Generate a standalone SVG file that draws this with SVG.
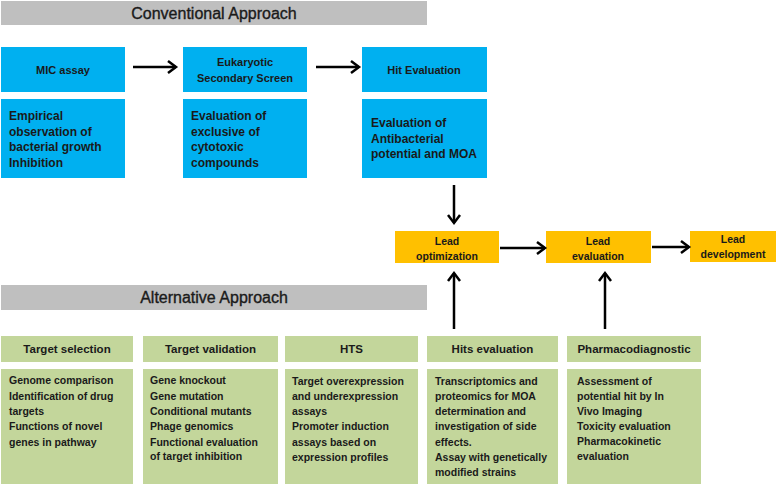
<svg xmlns="http://www.w3.org/2000/svg" width="777" height="486" viewBox="0 0 777 486">
<defs>
<style>
.bar{fill:#BFBFBF}
.blue{fill:#00B0F0}
.org{fill:#FFC000}
.grn{fill:#C3D69B}
.t{font-family:"Liberation Sans",Arial,sans-serif;font-weight:bold;fill:#1a1a1a}
.hd{font-family:"Liberation Sans",Arial,sans-serif;font-size:16px;fill:#1a1a1a;stroke:#1a1a1a;stroke-width:0.35}
.bh{font-size:11px;text-anchor:middle}
.bd{font-size:12px}
.ld{font-size:10.5px;text-anchor:middle}
.gh{font-size:11.5px;text-anchor:middle}
.gd{font-size:10.5px}
.arr{stroke:#000;stroke-width:2.5;fill:none;marker-end:url(#ah)}
</style>
<marker id="ah" markerUnits="userSpaceOnUse" markerWidth="14" markerHeight="16" refX="11" refY="7" orient="auto" viewBox="0 0 14 14">
<path d="M3,1 L11,7 L3,13" fill="none" stroke="#000" stroke-width="2.5"/>
</marker>
</defs>
<rect width="777" height="486" fill="#fff"/>

<g id="conventional-header">
<rect class="bar" x="1" y="1" width="426" height="24"/>
<text class="hd" x="214" y="19" text-anchor="middle">Conventional Approach</text>
</g>

<g id="mic-assay">
<rect class="blue" x="1" y="47" width="124" height="45"/>
<text class="t bh" x="63" y="74">MIC assay</text>
</g>
<g id="mic-detail">
<rect class="blue" x="1" y="99" width="124" height="79"/>
<text class="t bd" x="9" y="120">Empirical</text>
<text class="t bd" x="9" y="135.5">observation of</text>
<text class="t bd" x="9" y="151">bacterial growth</text>
<text class="t bd" x="9" y="167">Inhibition</text>
</g>

<g id="eukaryotic">
<rect class="blue" x="183" y="47" width="124" height="45"/>
<text class="t bh" x="245" y="66">Eukaryotic</text>
<text class="t bh" x="245" y="82">Secondary Screen</text>
</g>
<g id="eukaryotic-detail">
<rect class="blue" x="183" y="99" width="124" height="79"/>
<text class="t bd" x="191" y="120">Evaluation of</text>
<text class="t bd" x="191" y="135.5">exclusive of</text>
<text class="t bd" x="191" y="151">cytotoxic</text>
<text class="t bd" x="191" y="167">compounds</text>
</g>

<g id="hit-evaluation">
<rect class="blue" x="362" y="47" width="125" height="45"/>
<text class="t bh" x="424" y="74">Hit Evaluation</text>
</g>
<g id="hit-detail">
<rect class="blue" x="362" y="99" width="125" height="79"/>
<text class="t bd" x="371" y="127">Evaluation of</text>
<text class="t bd" x="371" y="143">Antibacterial</text>
<text class="t bd" x="371" y="158">potential and MOA</text>
</g>

<g id="lead-optimization">
<rect class="org" x="395" y="231" width="104" height="32"/>
<text class="t ld" x="447" y="245">Lead</text>
<text class="t ld" x="447" y="260">optimization</text>
</g>
<g id="lead-evaluation">
<rect class="org" x="546" y="231" width="105" height="32"/>
<text class="t ld" x="598" y="245">Lead</text>
<text class="t ld" x="598" y="260">evaluation</text>
</g>
<g id="lead-development">
<rect class="org" x="690" y="231" width="86" height="31"/>
<text class="t ld" x="733" y="243">Lead</text>
<text class="t ld" x="733" y="258">development</text>
</g>

<g id="alternative-header">
<rect class="bar" x="1" y="285" width="426" height="25"/>
<text class="hd" x="214" y="303" text-anchor="middle">Alternative Approach</text>
</g>

<g id="target-selection">
<rect class="grn" x="1" y="336" width="132" height="26"/>
<text class="t gh" x="67" y="353">Target selection</text>
</g>
<g id="target-selection-detail">
<rect class="grn" x="1" y="369" width="132" height="115"/>
<text class="t gd" x="9" y="384">Genome comparison</text>
<text class="t gd" x="9" y="400">Identification of drug</text>
<text class="t gd" x="9" y="415">targets</text>
<text class="t gd" x="9" y="430">Functions of novel</text>
<text class="t gd" x="9" y="446">genes in pathway</text>
</g>

<g id="target-validation">
<rect class="grn" x="143" y="336" width="135" height="26"/>
<text class="t gh" x="210.5" y="353">Target validation</text>
</g>
<g id="target-validation-detail">
<rect class="grn" x="143" y="369" width="135" height="115"/>
<text class="t gd" x="150" y="384">Gene knockout</text>
<text class="t gd" x="150" y="400">Gene mutation</text>
<text class="t gd" x="150" y="415">Conditional mutants</text>
<text class="t gd" x="150" y="430">Phage genomics</text>
<text class="t gd" x="150" y="446">Functional evaluation</text>
<text class="t gd" x="150" y="460">of target inhibition</text>
</g>

<g id="hts">
<rect class="grn" x="285" y="336" width="133" height="26"/>
<text class="t gh" x="351.5" y="353">HTS</text>
</g>
<g id="hts-detail">
<rect class="grn" x="285" y="369" width="133" height="115"/>
<text class="t gd" x="292" y="385">Target overexpression</text>
<text class="t gd" x="292" y="400">and underexpression</text>
<text class="t gd" x="292" y="415">assays</text>
<text class="t gd" x="292" y="430">Promoter induction</text>
<text class="t gd" x="292" y="446">assays based on</text>
<text class="t gd" x="292" y="461">expression profiles</text>
</g>

<g id="hits-evaluation">
<rect class="grn" x="427" y="336" width="131" height="26"/>
<text class="t gh" x="492.5" y="353">Hits evaluation</text>
</g>
<g id="hits-evaluation-detail">
<rect class="grn" x="427" y="369" width="131" height="115"/>
<text class="t gd" x="435" y="385">Transcriptomics  and</text>
<text class="t gd" x="435" y="400">proteomics for MOA</text>
<text class="t gd" x="435" y="415">determination and</text>
<text class="t gd" x="435" y="430">investigation of side</text>
<text class="t gd" x="435" y="446">effects.</text>
<text class="t gd" x="435" y="461">Assay with genetically</text>
<text class="t gd" x="435" y="476">modified strains</text>
</g>

<g id="pharmacodiagnostic">
<rect class="grn" x="567" y="336" width="134" height="26"/>
<text class="t gh" x="634" y="353">Pharmacodiagnostic</text>
</g>
<g id="pharmacodiagnostic-detail">
<rect class="grn" x="567" y="369" width="134" height="115"/>
<text class="t gd" x="577" y="385">Assessment of</text>
<text class="t gd" x="577" y="400">potential hit by In</text>
<text class="t gd" x="577" y="415">Vivo Imaging</text>
<text class="t gd" x="577" y="430">Toxicity evaluation</text>
<text class="t gd" x="577" y="445">Pharmacokinetic</text>
<text class="t gd" x="577" y="460">evaluation</text>
</g>

<g id="connectors">
<line class="arr" x1="133" y1="67" x2="176" y2="67"/>
<line class="arr" x1="316" y1="67" x2="359" y2="67"/>
<line class="arr" x1="454" y1="185" x2="454" y2="223"/>
<line class="arr" x1="500" y1="248" x2="545" y2="248"/>
<line class="arr" x1="652" y1="247" x2="689" y2="247"/>
<line class="arr" x1="454" y1="329" x2="454" y2="273"/>
<line class="arr" x1="605" y1="329" x2="605" y2="273"/>
</g>
</svg>
